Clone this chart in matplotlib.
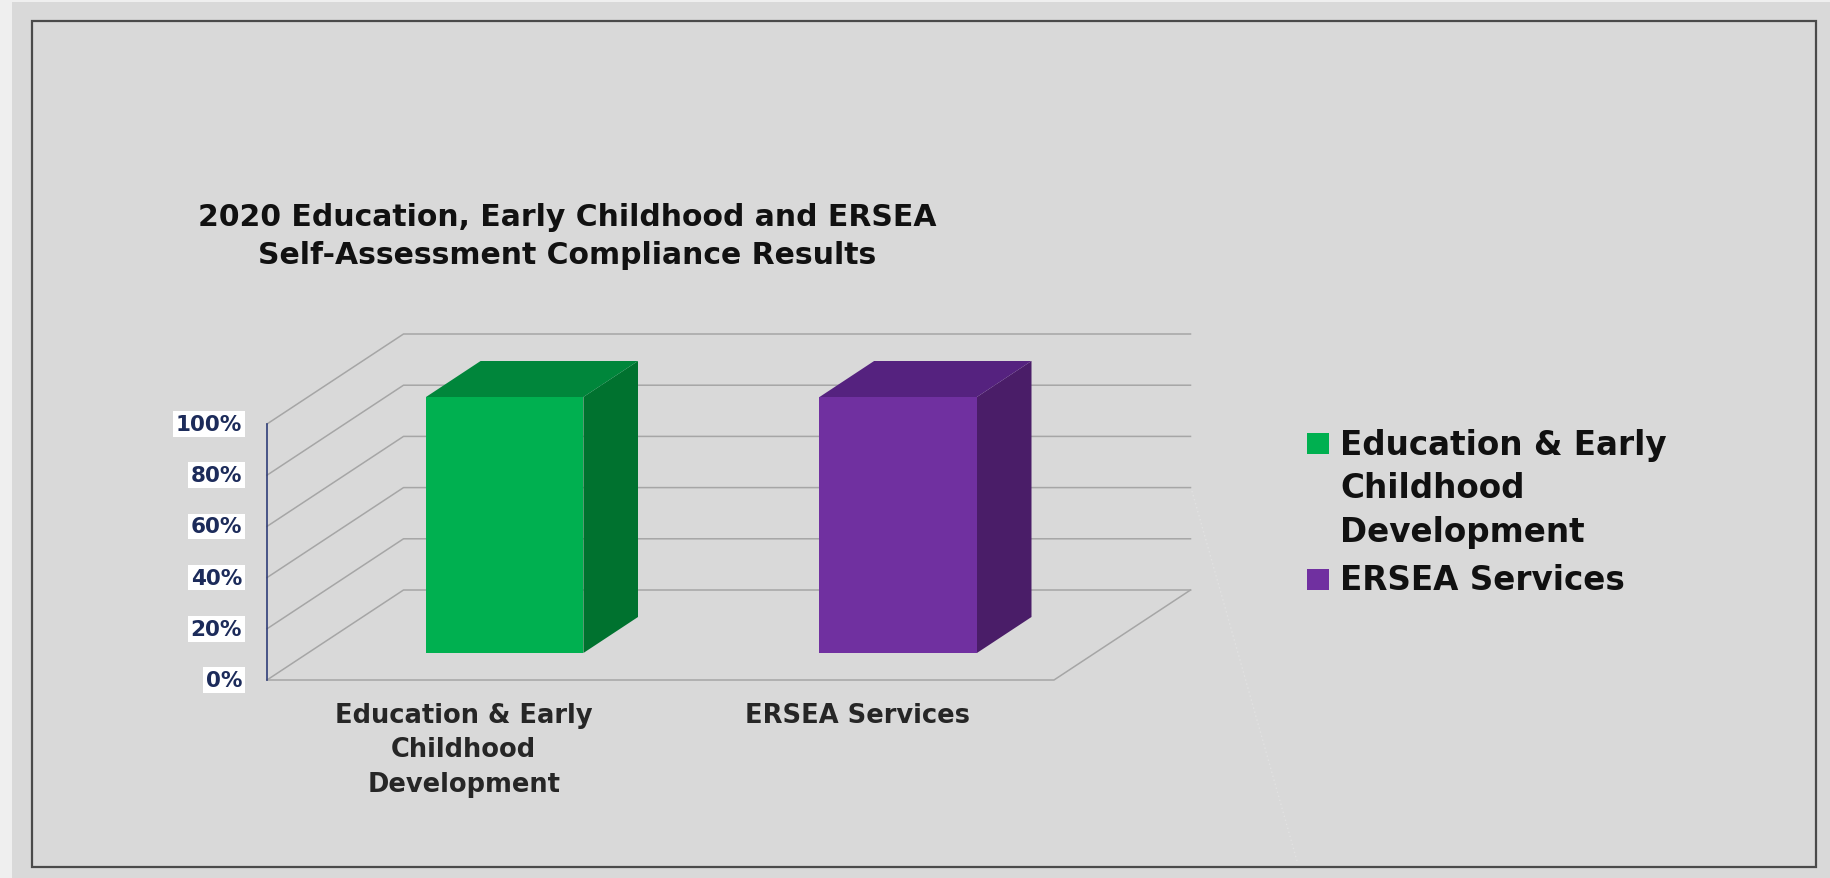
import textwrap
import matplotlib
matplotlib.use("Agg")
import matplotlib.pyplot as plt
from matplotlib.patches import Polygon, Rectangle

# data
categories = ["Education & Early Childhood Development", "ERSEA Services"]
compliance = [100, 100]          # percent compliant
y_ticks = [0, 20, 40, 60, 80, 100]
front_colors = ["#00b050", "#7030a0"]
top_colors = ["#00863b", "#55227f"]
side_colors = ["#00722f", "#4a1d68"]
title = "2020 Education, Early Childhood and ERSEA\nSelf-Assessment Compliance Results"

W, H = 1831, 879
fig = plt.figure(figsize=(W / 100, H / 100), dpi=100, facecolor="#efefef")
ax = fig.add_axes([0, 0, 1, 1])
ax.set_xlim(0, W)
ax.set_ylim(H, 0)
ax.axis("off")

# chart area + border
ax.add_patch(Rectangle((12, 3), W - 12, H - 3, facecolor="#d9d9d9", edgecolor="none"))
ax.add_patch(Rectangle((32, 22), 1816 - 32, 868 - 22, facecolor="none",
                       edgecolor="#4a4a4a", lw=1.6))

# oblique 3d box: u = category axis (0..1), v = value, z = depth (0..1)
X0, Y0 = 267, 681
BOX_W, BOX_H = 787, 256
DX, DY = 136.5, 90
VMAX = y_ticks[-1]


def proj(u, v, z):
    return X0 + u * BOX_W + z * DX, Y0 - v / VMAX * BOX_H - z * DY


grid = "#a6a6a6"
for t in y_ticks:
    (xa, ya), (xb, yb), (xc, yc) = proj(0, t, 0), proj(0, t, 1), proj(1, t, 1)
    ax.plot([xa, xb, xc], [ya, yb, yc], color=grid, lw=1.1, zorder=1)

# floor edges
pts = [proj(0, 0, 0), proj(1, 0, 0), proj(1, 0, 1)]
ax.plot([p[0] for p in pts], [p[1] for p in pts], color=grid, lw=1.1, zorder=1)

# value axis
(xa, ya), (xb, yb) = proj(0, 0, 0), proj(0, VMAX, 0)
ax.plot([xa, xb], [ya, yb], color="#2f3d78", lw=1.2, zorder=2)
for t in y_ticks:
    x, y = proj(0, t, 0)
    ax.text(x - 25, y, f"{t}%", ha="right", va="center", fontsize=15.5,
            fontweight="bold", color="#1c2b5a", family="DejaVu Sans",
            bbox=dict(facecolor="white", edgecolor="none", pad=2))

# bars
n = len(categories)
gap = 1.5
z0, z1 = 0.3, 0.7
for i, (val, name) in enumerate(zip(compliance, categories)):
    c = (i + 0.5) / n
    hw = (1 / n) / (1 + gap) / 2
    u0, u1 = c - hw, c + hw
    front = [proj(u0, 0, z0), proj(u1, 0, z0), proj(u1, val, z0), proj(u0, val, z0)]
    top = [proj(u0, val, z0), proj(u1, val, z0), proj(u1, val, z1), proj(u0, val, z1)]
    side = [proj(u1, 0, z0), proj(u1, 0, z1), proj(u1, val, z1), proj(u1, val, z0)]
    ax.add_patch(Polygon(side, closed=True, facecolor=side_colors[i], edgecolor="none", zorder=3))
    ax.add_patch(Polygon(top, closed=True, facecolor=top_colors[i], edgecolor="none", zorder=3))
    ax.add_patch(Polygon(front, closed=True, facecolor=front_colors[i], edgecolor="none", zorder=4))

    # category label under the floor
    x, y = proj(c, 0, 0)
    ax.text(x, y + 22, "\n".join(textwrap.wrap(name, 17)), ha="center", va="top",
            fontsize=18.5, fontweight="bold", color="#262626", linespacing=1.42,
            family="DejaVu Sans")

# legend
ly = 431
for i, name in enumerate(categories):
    lines = textwrap.wrap(name, 17)
    ax.add_patch(Rectangle((1307, ly + 3), 22, 21, facecolor=front_colors[i], edgecolor="none"))
    ax.text(1340, ly - 2, "\n".join(lines), ha="left", va="top", fontsize=23.5,
            fontweight="bold", color="#111111", linespacing=1.4, family="DejaVu Sans")
    ly += 42.5 * len(lines) + 8

ax.text(567, 203, title, ha="center", va="top", fontsize=21.5, fontweight="bold",
        color="#111111", linespacing=1.38, family="DejaVu Sans")

# faint leader line to the legend
ax.plot([1192, 1297], [492, 862], color="#e2e2e2", lw=1, ls=(0, (1, 2)), zorder=1)

fig.savefig("out.png", dpi=100, facecolor=fig.get_facecolor())
